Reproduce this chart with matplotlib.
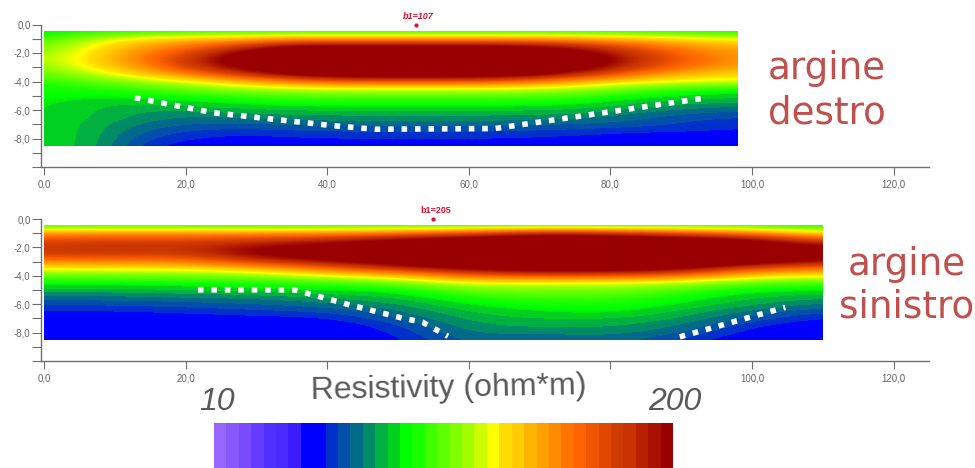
import matplotlib
matplotlib.use('Agg')
import matplotlib.pyplot as plt
from matplotlib.colors import ListedColormap, LinearSegmentedColormap, Normalize, to_rgba
from matplotlib.patches import Rectangle
import numpy as np

W, H = 975, 468

# colour bar bands, left to right
bands = ['#9966ff', '#8a58ff', '#7a4aff', '#653cff', '#5030ff', '#4a2aff', '#3a1cff', '#0000ff',
         '#0000ff', '#0030cc', '#0050aa', '#006a88', '#008a66', '#00b040', '#00d020', '#00ff00',
         '#1aff00', '#40ff00', '#60ff00', '#80ff00', '#a0ff00', '#ccff00', '#ffff00', '#ffdd00',
         '#ffcc00', '#ffb400', '#ffa000', '#ff8c00', '#ff7400', '#ff6400', '#f05500', '#e04800',
         '#d03c00', '#c83200', '#b82200', '#a81000', '#990000']

depth = [0.5, 1.0, 1.5, 2.0, 2.5, 3.0, 3.5, 4.0, 4.5, 5.0, 5.5, 6.0, 6.5, 7.0, 7.5, 8.0, 8.5]

# resistivity, rows = depth, columns = progressive
x_destro = [0, 7, 14, 21, 28, 35, 42, 49, 56, 63, 70, 77, 84, 91, 98]
res_destro = [
    [88, 95, 98, 100, 100, 100, 100, 100, 100, 100, 100, 100, 100, 98, 95],
    [100, 118, 132, 138, 142, 150, 150, 150, 150, 150, 150, 145, 138, 130, 125],
    [108, 126, 145, 160, 180, 205, 205, 205, 205, 205, 200, 185, 165, 150, 142],
    [114, 130, 155, 175, 205, 225, 225, 230, 230, 225, 215, 205, 180, 160, 148],
    [116, 132, 158, 185, 215, 235, 240, 240, 240, 240, 235, 215, 185, 165, 150],
    [112, 128, 150, 178, 205, 225, 235, 235, 235, 232, 225, 205, 178, 158, 145],
    [104, 118, 134, 155, 180, 205, 215, 220, 220, 215, 205, 180, 155, 138, 132],
    [96, 104, 114, 125, 138, 155, 165, 165, 165, 165, 155, 138, 128, 124, 122],
    [92, 94, 100, 108, 115, 120, 122, 122, 122, 122, 120, 115, 104, 98, 92],
    [90, 88, 90, 94, 98, 102, 103, 103, 103, 103, 102, 98, 91, 86, 84],
    [88, 84, 82, 85, 88, 91, 92, 92, 92, 92, 91, 88, 81, 78, 76],
    [88, 82, 76, 78, 80, 82, 82, 82, 82, 82, 82, 80, 74, 70, 67],
    [87, 82, 75, 70, 72, 74, 75, 75, 75, 75, 74, 72, 68, 63, 61],
    [87, 80, 70, 66, 66, 67, 68, 68, 68, 68, 67, 66, 64, 60, 58],
    [87, 80, 66, 60, 58, 60, 61, 61, 61, 61, 60, 58, 56, 56, 55],
    [87, 80, 62, 56, 54, 55, 56, 56, 56, 56, 55, 54, 53, 53, 52],
    [86, 80, 58, 52, 51, 52, 52, 52, 52, 52, 52, 51, 50, 50, 50],
]

x_sinistro = [0, 10, 20, 30, 40, 50, 60, 70, 80, 90, 100, 110]
res_sinistro = [
    [100, 100, 100, 100, 100, 100, 100, 100, 100, 100, 100, 95],
    [148, 150, 150, 150, 150, 158, 172, 192, 185, 172, 155, 128],
    [172, 175, 172, 180, 188, 205, 215, 225, 220, 215, 205, 170],
    [182, 186, 184, 200, 210, 225, 235, 240, 235, 230, 220, 205],
    [178, 180, 176, 205, 215, 225, 235, 240, 240, 235, 225, 210],
    [152, 155, 155, 178, 198, 215, 225, 235, 235, 230, 215, 195],
    [126, 128, 128, 140, 160, 185, 205, 215, 215, 205, 170, 155],
    [106, 108, 108, 112, 125, 135, 165, 170, 170, 160, 132, 128],
    [90, 90, 92, 95, 98, 108, 125, 122, 122, 118, 104, 100],
    [80, 80, 82, 85, 88, 89, 108, 110, 110, 102, 89, 88],
    [70, 70, 72, 73, 78, 82, 96, 100, 100, 92, 82, 78],
    [62, 62, 64, 66, 70, 76, 88, 92, 94, 87, 78, 70],
    [56, 56, 58, 60, 62, 70, 83, 87, 90, 81, 70, 62],
    [50, 50, 52, 54, 55, 66, 79, 82, 82, 77, 64, 55],
    [48, 48, 48, 48, 50, 60, 76, 78, 78, 72, 57, 50],
    [47, 47, 47, 47, 48, 57, 73, 72, 74, 68, 52, 47],
    [46, 46, 46, 46, 46, 54, 70, 66, 70, 60, 49, 46],
]

# white dotted lines
line_destro_x = [12.85, 23.9, 40.8, 46.75, 63.7, 93.6]
line_destro_y = [-5.14, -6.19, -7.1, -7.35, -7.3, -5.14]
line_sin1_x = [21.75, 35.45, 42.8, 50.3, 53.5, 57.06]
line_sin1_y = [-4.99, -4.99, -6.0, -6.94, -7.28, -8.26]
line_sin2_x = [89.8, 104.7]
line_sin2_y = [-8.3, -6.22]

x_ticks = [0, 20, 40, 60, 80, 100, 120]
x_labels_destro = ['0,0', '20,0', '40,0', '60,0', '80,0', '100,0', '120,0']
x_labels_sinistro = ['0,0', '20,0', '', '', '', '100,0', '120,0']
y_ticks = [0, -1, -2, -3, -4, -5, -6, -7, -8, -9, -10]
y_labels = ['0,0', '', '-2,0', '', '-4,0', '', '-6,0', '', '-8,0', '', '']

plt.rcParams['font.family'] = ['Liberation Sans', 'DejaVu Sans']
bar_cmap = ListedColormap(bands)
norm = Normalize(10, 200)
GREY = '#6e6e6e'
RED = '#e01030'
DOTS = (1, 1.42)

# panels: stepped in the cold colours, smooth from green upward
N = 370
fine = LinearSegmentedColormap.from_list('fine', bands, N=N)(np.arange(N) / (N - 1))
for i in range(N):
    band = int(i / N * len(bands))
    if band < 15:
        fine[i] = to_rgba(bands[band])
panel_cmap = ListedColormap(fine)


def px_axes(fig, left, top, width, height):
    return fig.add_axes([left / W, 1 - (top + height) / H, width / W, height / H])


def panel(fig, top, bottom, xs, res, x_end, xlabels):
    ax = px_axes(fig, 41, top, 888, bottom - top)
    dx = xs[1] - xs[0]
    im = ax.imshow(np.array(res, dtype=float), cmap=panel_cmap, norm=norm, interpolation='bicubic',
                   interpolation_stage='data', aspect='auto',
                   extent=[xs[0] - dx / 2, xs[-1] + dx / 2, -depth[-1] - 0.25, -depth[0] + 0.25])
    ax.set_xlim(-0.42, 125.0)
    ax.set_ylim(-10, 0)
    im.set_clip_path(Rectangle((0, -8.5), x_end, 8.05, transform=ax.transData))
    ax.spines['top'].set_visible(False)
    ax.spines['right'].set_visible(False)
    for s in ['left', 'bottom']:
        ax.spines[s].set_color(GREY)
        ax.spines[s].set_linewidth(1.0)
    ax.set_xticks(x_ticks)
    ax.set_xticklabels(xlabels)
    ax.set_yticks(y_ticks)
    ax.set_yticklabels(y_labels)
    ax.tick_params(axis='x', length=6, width=0.8, color=GREY, labelsize=7, labelcolor='#666666', pad=3)
    ax.tick_params(axis='y', length=6.5, width=0.8, color=GREY, labelsize=7, labelcolor='#666666', pad=1)
    return ax


fig = plt.figure(figsize=(W / 100, H / 100), dpi=100, facecolor='white')

ax1 = panel(fig, 24.5, 167, x_destro, res_destro, 98, x_labels_destro)
ax1.plot(line_destro_x, line_destro_y, color='white', lw=4, dashes=DOTS, dash_capstyle='butt')
ax1.plot([52.5], [0], 'o', color=RED, ms=2, clip_on=False)
ax1.text(52.9, 0.55, 'b1=107', color=RED, fontsize=6.5, fontweight='bold', style='italic',
         ha='center', va='center', clip_on=False)

ax2 = panel(fig, 219, 361, x_sinistro, res_sinistro, 110, x_labels_sinistro)
ax2.plot(line_sin1_x, line_sin1_y, color='white', lw=4, dashes=DOTS, dash_capstyle='butt')
ax2.plot(line_sin2_x, line_sin2_y, color='white', lw=4, dashes=DOTS, dash_capstyle='butt')
ax2.plot([54.9], [0], 'o', color=RED, ms=2, clip_on=False)
ax2.text(55.3, 0.6, 'b1=205', color=RED, fontsize=6.5, fontweight='bold', ha='center', va='center',
         clip_on=False)

cax = px_axes(fig, 214, 423, 458, 45)
cax.imshow([list(range(len(bands)))], cmap=bar_cmap, aspect='auto', interpolation='nearest')
cax.axis('off')


def label(x, y, s, **kw):
    fig.text(x / W, 1 - y / H, s, **kw)


RED_TXT = '#c0504d'
label(768, 79, 'argine', color=RED_TXT, fontsize=26.8, family='DejaVu Sans', va='baseline')
label(768, 123, 'destro', color=RED_TXT, fontsize=26.8, family='DejaVu Sans', va='baseline')
label(848, 275, 'argine', color=RED_TXT, fontsize=26.8, family='DejaVu Sans', va='baseline')
label(839, 317, 'sinistro', color=RED_TXT, fontsize=26.8, family='DejaVu Sans', va='baseline')

TXT = '#595959'
label(449, 389, 'Resistivity (ohm*m)', color=TXT, fontsize=23, ha='center', va='center', rotation=1)
label(217, 402, '10', color=TXT, fontsize=23, style='italic', ha='center', va='center')
label(675, 402, '200', color=TXT, fontsize=23, style='italic', ha='center', va='center')

fig.savefig('out.png', dpi=100)
